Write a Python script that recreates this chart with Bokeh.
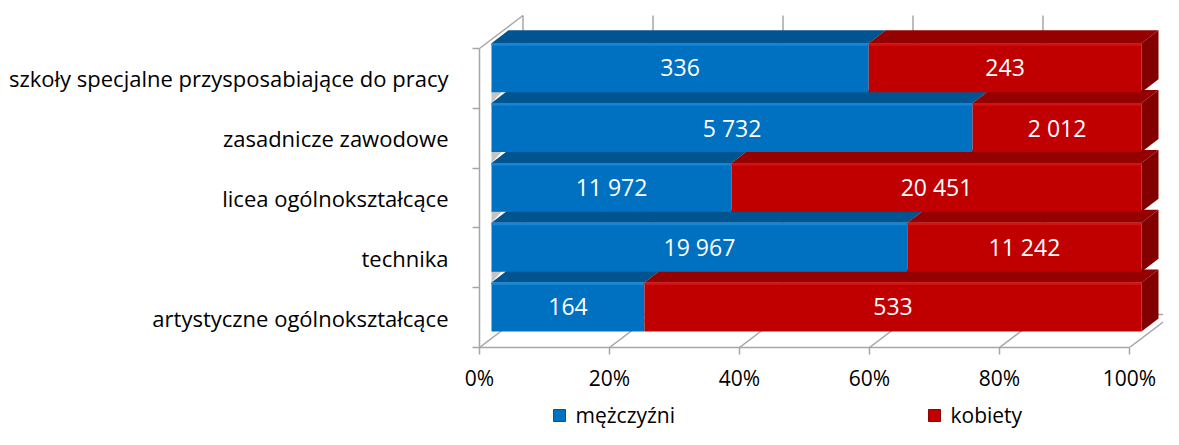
from bokeh.plotting import figure
from bokeh.layouts import column
from bokeh.models import Range1d, FixedTicker, ColumnDataSource
from bokeh.core.properties import value
from bokeh.embed import file_html
from bokeh.resources import INLINE

# ---- data ----
categories = ["artystyczne ogólnokształcące", "technika", "licea ogólnokształcące",
              "zasadnicze zawodowe", "szkoły specjalne przysposabiające do pracy"]
men = [164, 19967, 11972, 5732, 336]
women = [533, 11242, 20451, 2012, 243]
series_names = ["mężczyźni", "kobiety"]
x_ticks = [0, 20, 40, 60, 80, 100]
x_tick_labels = ["0%", "20%", "40%", "60%", "80%", "100%"]

# ---- styling / geometry ----
FONT = "Open Sans"
BLUE_FRONT, BLUE_TOP, BLUE_HI = "#0070C0", "#00548F", "#1585D5"
RED_FRONT, RED_TOP, RED_SIDE, RED_HI = "#C00000", "#950000", "#820000", "#D51010"
GRID = "#A6A6A6"

W, H, HL = 1163, 398, 31
LEFT, BOTTOM = 479, 51
PX_PCT = 6.5
PX_CAT = 59.8
x_end = (W - LEFT) / PX_PCT
y_end = (H - BOTTOM) / PX_CAT

# 3D depth (data units)
DX, DY = 43.5 / PX_PCT, 33.0 / PX_CAT      # whole box depth
FX = 12.0 / PX_PCT                          # front face offset of bars
BDX, BDY = 17.0 / PX_PCT, 13.0 / PX_CAT     # bar depth
FB, FT = 0.268, 1.087                       # bar front face bottom/top in band

n = len(categories)
pct_m = [100.0 * m / (m + w) for m, w in zip(men, women)]

p = figure(width=W, height=H, output_backend="svg", toolbar_location=None,
           x_range=Range1d(0, x_end), y_range=Range1d(0, y_end),
           min_border_left=LEFT, min_border_right=0, min_border_top=0,
           min_border_bottom=BOTTOM, outline_line_color=None)
p.xgrid.visible = False
p.ygrid.visible = False

# ---- walls / floor (oblique 3D box) ----
xs0, ys0, xs1, ys1 = [], [], [], []
for t in x_ticks:                       # floor diagonals
    xs0.append(t); ys0.append(0); xs1.append(t + DX); ys1.append(DY)
for t in x_ticks:                       # back wall verticals
    xs0.append(t + DX); ys0.append(DY); xs1.append(t + DX); ys1.append(n + DY)
xs0 += [0, DX]; ys0 += [n, DY]; xs1 += [DX, 100 + DX]; ys1 += [n + DY, DY]
p.segment(x0=xs0, y0=ys0, x1=xs1, y1=ys1, line_color=GRID, line_width=1.5)

# ---- bars ----
tri_x, tri_y = [], []
top_x, top_y, top_c = [], [], []
side_x, side_y = [], []
fm = dict(left=[], right=[], bottom=[], top=[])
fw = dict(left=[], right=[], bottom=[], top=[])
for i in range(n):
    yb, yt = i + FB, i + FT
    x0 = FX
    xm = FX + pct_m[i]
    x1 = FX + 100.0
    if i < n - 1:
        tri_x.append([x0, x0, x0 + BDX * 0.7]); tri_y.append([yt, yt + BDY, yt + BDY])
    for a, b, c in [(x0, xm, BLUE_TOP), (xm, x1, RED_TOP)]:
        top_x.append([a, a + BDX, b + BDX, b]); top_y.append([yt, yt + BDY, yt + BDY, yt]); top_c.append(c)
    side_x.append([x1, x1 + BDX, x1 + BDX, x1]); side_y.append([yb, yb + BDY, yt + BDY, yt])
    fm["left"].append(x0); fm["right"].append(xm); fm["bottom"].append(yb); fm["top"].append(yt)
    fw["left"].append(xm); fw["right"].append(x1); fw["bottom"].append(yb); fw["top"].append(yt)

p.patches(tri_x, tri_y, fill_color="#C4C4C4", line_color=None)
p.patches(top_x, top_y, fill_color=top_c, line_color=None)
p.patches(side_x, side_y, fill_color=RED_SIDE, line_color=None)
p.quad(source=ColumnDataSource(fm), left="left", right="right", bottom="bottom", top="top",
       fill_color=BLUE_FRONT, line_color=None)
p.quad(source=ColumnDataSource(fw), left="left", right="right", bottom="bottom", top="top",
       fill_color=RED_FRONT, line_color=None)
# highlight at front top edge
hl = 2.5 / PX_CAT
p.quad(left=fm["left"], right=fm["right"], bottom=[t - hl for t in fm["top"]], top=fm["top"],
       fill_color=BLUE_HI, line_color=None)
p.quad(left=fw["left"], right=fw["right"], bottom=[t - hl for t in fw["top"]], top=fw["top"],
       fill_color=RED_HI, line_color=None)


def fmt(v):
    return f"{v:,}".replace(",", " ")


lx, ly, lt = [], [], []
for i in range(n):
    yc = i + (FB + FT) / 2
    lx.append(FX + pct_m[i] / 2); ly.append(yc); lt.append(fmt(men[i]))
    lx.append(FX + (pct_m[i] + 100) / 2); ly.append(yc); lt.append(fmt(women[i]))
p.text(x=lx, y=ly, text=lt, text_color="white", text_font=value(FONT),
       text_font_size="23px", text_align="center", text_baseline="middle")

# ---- axes ----
xa = p.xaxis[0]
xa.ticker = FixedTicker(ticks=x_ticks, minor_ticks=[])
xa.major_label_overrides = {t: l for t, l in zip(x_ticks, x_tick_labels)}
xa.bounds = (0, 100)
xa.axis_line_color = GRID
xa.axis_line_width = 1.5
xa.major_tick_line_color = GRID
xa.major_tick_line_width = 1.5
xa.major_tick_out = 7
xa.major_tick_in = 0
xa.minor_tick_line_color = None
xa.major_label_standoff = 9
xa.major_label_text_font = FONT
xa.major_label_text_font_size = "21px"
xa.major_label_text_color = "black"

ya = p.yaxis[0]
centers = [i + 0.5 for i in range(n)]
ya.ticker = FixedTicker(ticks=centers, minor_ticks=list(range(n + 1)))
ya.major_label_overrides = {c: lab for c, lab in zip(centers, categories)}
ya.bounds = (0, n)
ya.axis_line_color = GRID
ya.axis_line_width = 1.5
ya.major_tick_line_color = None
ya.major_tick_out = 0
ya.major_tick_in = 0
ya.minor_tick_line_color = GRID
ya.minor_tick_line_width = 1.5
ya.minor_tick_out = 7
ya.minor_tick_in = 0
ya.major_label_standoff = 24
ya.major_label_text_font = FONT
ya.major_label_text_font_size = "22px"
ya.major_label_text_color = "black"

# ---- legend (separate strip below the chart; frame spans LEFT..W in pixels) ----
lg = figure(width=W, height=HL, output_backend="svg", toolbar_location=None,
            x_range=Range1d(LEFT, W), y_range=Range1d(HL, 0),
            min_border_left=LEFT, min_border_right=0, min_border_top=0, min_border_bottom=0,
            outline_line_color=None)
lg.axis.visible = False
lg.grid.visible = False
key_left = [553, 928]
lg.quad(left=key_left, right=[k + 12 for k in key_left], top=[11, 11], bottom=[23, 23],
        fill_color=[BLUE_FRONT, RED_FRONT], line_color=[BLUE_TOP, RED_TOP], line_width=1)
lg.text(x=[k + 22 for k in key_left], y=[16, 16], text=series_names, text_color="black",
        text_font=value(FONT), text_font_size="21px", text_align="left",
        text_baseline="middle")

layout = column(p, lg, spacing=0)
open("out.html", "w").write(file_html(layout, INLINE))
